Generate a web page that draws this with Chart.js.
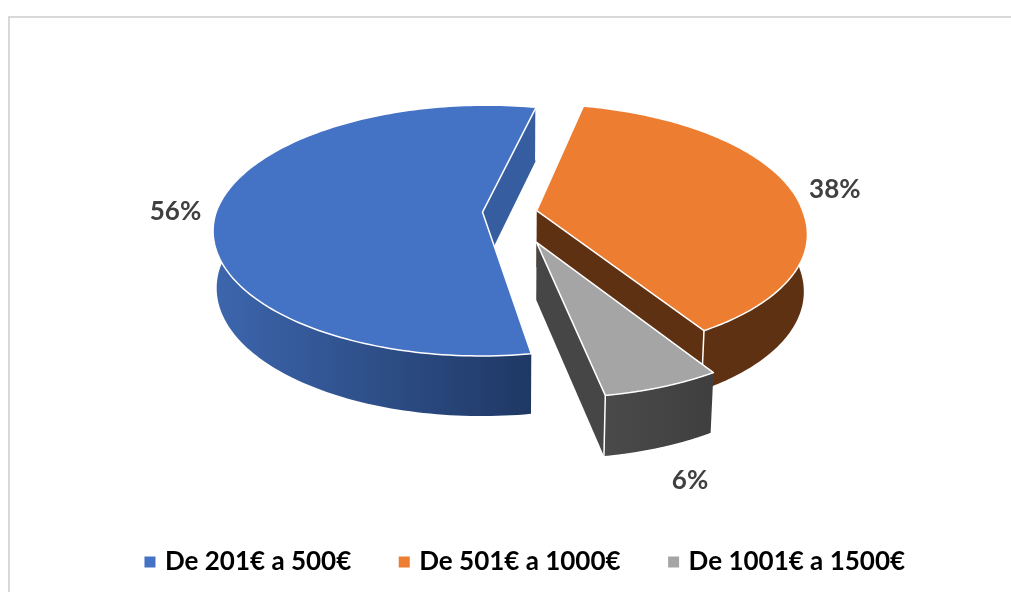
<!DOCTYPE html>
<html><head><meta charset="utf-8">
<style>
html,body{margin:0;padding:0;background:#fff;overflow:hidden}
#wrap{position:relative;width:1011px;height:592px;overflow:hidden;background:#fff}
#frame{position:absolute;left:8px;top:16px;width:1100px;height:700px;border-left:2px solid #d9d9d9;border-top:2px solid #d9d9d9}
canvas{position:absolute;left:0;top:0}
</style>
<script src="https://cdn.jsdelivr.net/npm/chart.js@4"></script>
</head><body>
<div id="wrap"><div id="frame"></div><canvas id="c" width="1011" height="592"></canvas></div>
<script>
const categories = ['De 201€ a 500€', 'De 501€ a 1000€', 'De 1001€ a 1500€'];
const shares = [56, 38, 6];
const percentLabels = ['56%', '38%', '6%'];
const explosion = [10.5, 10, 25];

const topColors = ['#4472C4', '#ED7D31', '#A5A5A5'];
const sideStops = [['#3D66AE', '#1F3864'], ['#5F3113', '#5F3113'], ['#4A4A4A', '#3F3F3F']];
const cutColors = ['#355D9F', '#5F3113', '#464646'];
const labelPlacement = [[1.265, 0.05], [1.27, 0.03], [1.56, 0.62]];
const lean = [0.012, 0.03, 0.038];

const cam = {A: 266.5, K: 122.8, D: 59, p: 0.147, q: 0.038, qx: 0.012, cy: 212.5, shift: -16};

const plot3d = {
  id: 'plot3d',
  beforeDatasetDraw(chart) {
    const ctx = chart.ctx;
    const arcs = chart.getDatasetMeta(0).data;
    const cx = arcs[0].x + cam.shift;
    const P = (u, v, z, s) => [
      cx + cam.A * (u + s * Math.max(v, 0)) / (1 - cam.p * v + cam.qx * z),
      cam.cy + (cam.K * v + cam.D * z) / (1 - cam.p * v + cam.q * z)
    ];
    const items = arcs.map((a, i) => {
      const mid = (a.startAngle + a.endAngle) / 2;
      const e = a.options.offset / 100;
      return {a, i, mid, e, ou: Math.cos(mid) * e, ov: Math.sin(mid) * e};
    }).sort((m, n) => m.ov - n.ov);

    const poly = (pts) => {
      ctx.beginPath();
      pts.forEach((p, k) => k ? ctx.lineTo(p[0], p[1]) : ctx.moveTo(p[0], p[1]));
    };
    for (const s of items) {
      const L = lean[s.i];
      const at = (ang, z) => P(s.ou + Math.cos(ang), s.ov + Math.sin(ang), z, L);
      const apex = (z) => P(s.ou, s.ov, z, L);
      const n = 160;
      const rim = (z) => {
        const out = [];
        for (let k = 0; k <= n; k++) {
          out.push(at(s.a.startAngle + (s.a.endAngle - s.a.startAngle) * k / n, z));
        }
        return out;
      };
      const t = rim(0), b = rim(1);
      // rim wall
      const xs = t.concat(b).filter(p => p[1] > apex(0)[1] - 5).map(p => p[0]);
      const g = ctx.createLinearGradient(Math.min(...xs), 0, Math.max(...xs), 0);
      g.addColorStop(0, sideStops[s.i][0]);
      g.addColorStop(1, sideStops[s.i][1]);
      ctx.fillStyle = g;
      poly(t.concat(b.slice().reverse()));
      ctx.closePath(); ctx.fill();
      // cut faces that look towards the viewer
      ctx.fillStyle = cutColors[s.i];
      const a0 = apex(0), m0 = at(s.mid, 0);
      for (const ang of [s.a.startAngle, s.a.endAngle]) {
        const e0 = at(ang, 0);
        const dx = e0[0] - a0[0], dy = e0[1] - a0[1];
        const side = dx * (m0[1] - a0[1]) - dy * (m0[0] - a0[0]);
        if (dx * side < 0) {
          poly([a0, e0, at(ang, 1), apex(1)]);
          ctx.closePath(); ctx.fill();
        }
      }
      // corner seam
      ctx.strokeStyle = '#fff'; ctx.lineWidth = 1.5;
      const ce = at(s.a.endAngle, 0), cb = at(s.a.endAngle, 1);
      poly([ce, cb]); ctx.stroke();
      // top
      ctx.fillStyle = topColors[s.i];
      ctx.lineJoin = 'round';
      poly([a0].concat(t));
      ctx.closePath(); ctx.fill(); ctx.stroke();
    }
    // labels
    ctx.font = 'bold 26px Lato';
    ctx.fillStyle = '#404040';
    ctx.textAlign = 'center';
    ctx.textBaseline = 'middle';
    items.forEach(s => {
      const [r, z] = labelPlacement[s.i];
      const p = P(Math.cos(s.mid) * r, Math.sin(s.mid) * r, z, 0);
      ctx.fillText(percentLabels[s.i], p[0], p[1]);
    });
    return false;
  }
};

new Chart(document.getElementById('c'), {
  type: 'pie',
  data: {
    labels: categories,
    datasets: [{
      data: shares,
      backgroundColor: topColors,
      offset: explosion.map(x => x),
      borderWidth: 0
    }]
  },
  plugins: [plot3d],
  options: {
    responsive: false,
    animation: false,
    rotation: 170.8,
    layout: {padding: {left: 42, bottom: 7}},
    plugins: {
      tooltip: {enabled: false},
      legend: {
        position: 'bottom',
        labels: {
          usePointStyle: true,
          pointStyle: 'rect',
          boxWidth: 4,
          boxHeight: 11,
          padding: 51,
          color: '#000000',
          font: {family: 'Lato', weight: 'bold', size: 26}
        }
      }
    }
  }
});
</script>
</body></html>
